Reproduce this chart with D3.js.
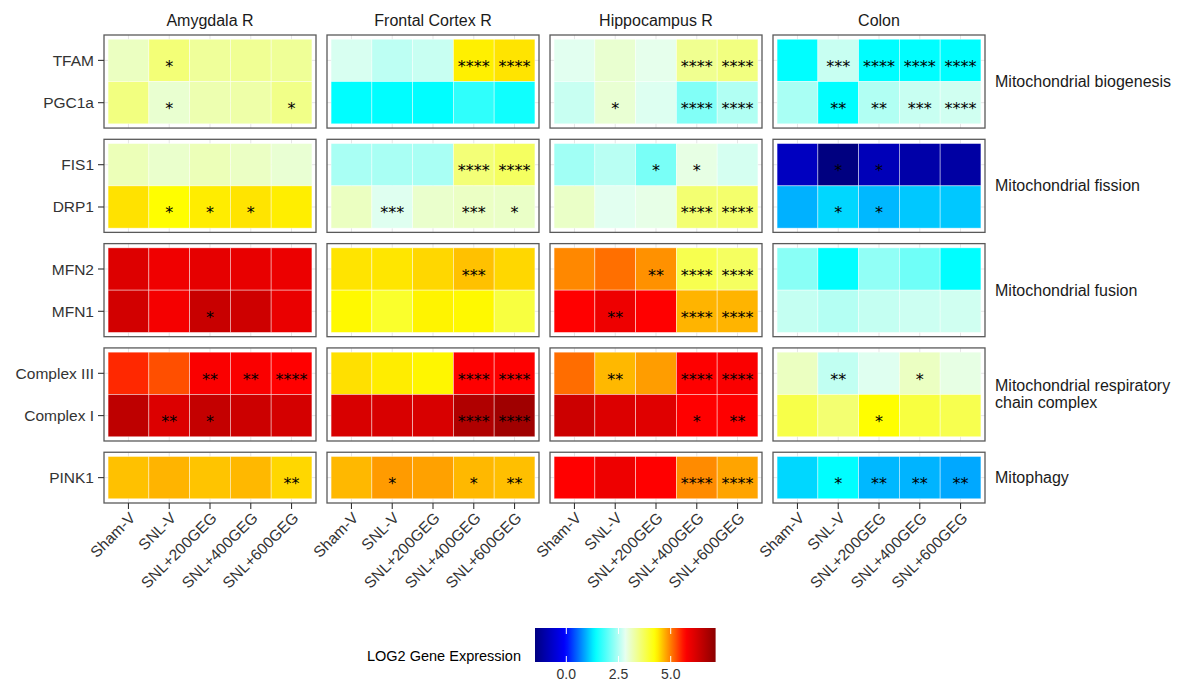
<!DOCTYPE html>
<html><head><meta charset="utf-8">
<script src="https://cdn.jsdelivr.net/npm/d3@7"></script>
<style>
body{margin:0;background:#fff}
svg{display:block}
text{font-family:"Liberation Sans",Arial,Helvetica,sans-serif}
</style>
</head><body>
<svg id="chart" width="1184" height="682"></svg>
<script>
// ---------------- DATA ----------------
const regions = ["Amygdala R", "Frontal Cortex R", "Hippocampus R", "Colon"];
const groups = ["Sham-V", "SNL-V", "SNL+200GEG", "SNL+400GEG", "SNL+600GEG"];
const pathways = ["Mitochondrial biogenesis", "Mitochondrial fission", "Mitochondrial fusion",
                  "Mitochondrial respiratory\nchain complex", "Mitophagy"];
const pathwayGenes = [["TFAM", "PGC1a"], ["FIS1", "DRP1"], ["MFN2", "MFN1"],
                      ["Complex III", "Complex I"], ["PINK1"]];
const genes = ["TFAM", "PGC1a", "FIS1", "DRP1", "MFN2", "MFN1", "Complex III", "Complex I", "PINK1"];

// LOG2 gene expression, rows follow `genes`, columns follow `groups`
const amygdalaValues = [
  [3.11, 3.55, 3.34, 3.38, 3.36],
  [3.50, 3.02, 3.21, 3.26, 3.45],
  [3.16, 3.04, 3.16, 3.09, 3.00],
  [4.43, 4.27, 4.37, 4.42, 4.36],
  [6.13, 5.89, 6.02, 5.99, 5.94],
  [6.27, 5.83, 6.39, 6.32, 5.97],
  [5.48, 5.26, 5.77, 5.77, 5.71],
  [6.52, 6.14, 6.44, 6.34, 6.24],
  [4.62, 4.69, 4.60, 4.67, 4.49]
];
const frontalValues = [
  [2.74, 2.57, 2.64, 4.35, 4.42],
  [1.38, 1.38, 1.38, 1.68, 1.48],
  [2.44, 2.44, 2.44, 3.55, 3.69],
  [3.11, 2.78, 3.04, 3.09, 3.07],
  [4.42, 4.41, 4.49, 4.62, 4.49],
  [4.30, 4.00, 4.33, 4.30, 3.88],
  [4.44, 4.37, 4.32, 5.72, 5.72],
  [6.19, 6.19, 6.19, 6.69, 6.89],
  [4.67, 4.83, 4.80, 4.67, 4.63]
];
const hippocampusValues = [
  [2.80, 3.02, 2.85, 3.40, 3.50],
  [2.64, 3.00, 2.77, 2.19, 2.49],
  [2.39, 2.54, 2.14, 2.90, 2.72],
  [3.07, 2.80, 2.88, 3.59, 3.62],
  [4.94, 5.08, 4.89, 3.79, 3.69],
  [5.71, 5.92, 5.71, 4.69, 4.69],
  [5.09, 4.67, 4.82, 5.72, 5.77],
  [6.34, 6.14, 6.09, 5.71, 5.72],
  [5.71, 5.92, 5.71, 4.92, 4.78]
];
const colonValues = [
  [1.38, 2.64, 1.38, 1.38, 1.38],
  [2.44, 1.38, 2.49, 2.64, 2.69],
  [-0.77, -1.50, -0.86, -1.05, -1.10],
  [0.94, 1.16, 0.98, 1.07, 1.07],
  [2.24, 1.38, 2.29, 2.08, 1.38],
  [2.61, 2.51, 2.61, 2.66, 2.69],
  [3.11, 2.59, 2.78, 3.10, 2.90],
  [3.83, 3.59, 4.27, 3.88, 3.79],
  [1.16, 1.38, 0.98, 0.96, 0.89]
];

// significance marks, same layout
const amygdalaStars = [
  ["", "*", "", "", ""],
  ["", "*", "", "", "*"],
  ["", "", "", "", ""],
  ["", "*", "*", "*", ""],
  ["", "", "", "", ""],
  ["", "", "*", "", ""],
  ["", "", "**", "**", "****"],
  ["", "**", "*", "", ""],
  ["", "", "", "", "**"]
];
const frontalStars = [
  ["", "", "", "****", "****"],
  ["", "", "", "", ""],
  ["", "", "", "****", "****"],
  ["", "***", "", "***", "*"],
  ["", "", "", "***", ""],
  ["", "", "", "", ""],
  ["", "", "", "****", "****"],
  ["", "", "", "****", "****"],
  ["", "*", "", "*", "**"]
];
const hippocampusStars = [
  ["", "", "", "****", "****"],
  ["", "*", "", "****", "****"],
  ["", "", "*", "*", ""],
  ["", "", "", "****", "****"],
  ["", "", "**", "****", "****"],
  ["", "**", "", "****", "****"],
  ["", "**", "", "****", "****"],
  ["", "", "", "*", "**"],
  ["", "", "", "****", "****"]
];
const colonStars = [
  ["", "***", "****", "****", "****"],
  ["", "**", "**", "***", "****"],
  ["", "*", "*", "", ""],
  ["", "*", "*", "", ""],
  ["", "", "", "", ""],
  ["", "", "", "", ""],
  ["", "**", "", "*", ""],
  ["", "", "*", "", ""],
  ["", "*", "**", "**", "**"]
];

const legendTicks = [0.0, 2.5, 5.0];
const colorDomain = [-1.5, 7.15];
const colorStops = ["#000080", "#0000FF", "#00FFFF", "#E6FFF0", "#FFFF00", "#FF0000", "#8B0000"];

// ---------------- LAYOUT ----------------
const regionValues = [amygdalaValues, frontalValues, hippocampusValues, colonValues];
const regionStars = [amygdalaStars, frontalStars, hippocampusStars, colonStars];

const svg = d3.select("#chart");
const panelLeft = 104, panelW = 212, gapX = 11;
const panelTop = 35, unitH = 42.3, gapY = 11.25;

const color = d3.scaleLinear()
  .domain(d3.range(colorStops.length).map(i => colorDomain[0] + i * (colorDomain[1] - colorDomain[0]) / (colorStops.length - 1)))
  .range(colorStops)
  .interpolate(d3.interpolateRgb)
  .clamp(true);

let yCursor = panelTop;
const rowPanels = pathwayGenes.map((g, i) => {
  const h = (g.length + 0.2) * unitH;
  const p = {top: yCursor, h: h, genes: g, label: pathways[i]};
  yCursor += h + gapY;
  return p;
});

const axisColor = "#333";
const fs = 15.5;

regions.forEach((region, ci) => {
  const x0 = panelLeft + ci * (panelW + gapX);
  const x = d3.scaleBand().domain(groups).range([x0, x0 + panelW]).paddingInner(0).paddingOuter(0.1);

  svg.append("text").attr("x", x0 + panelW / 2).attr("y", 26)
    .attr("text-anchor", "middle").attr("font-size", 16).attr("fill", "#1a1a1a").text(region);

  rowPanels.forEach((rp, ri) => {
    const y = d3.scaleBand().domain(rp.genes).range([rp.top, rp.top + rp.h]).paddingInner(0).paddingOuter(0.1);
    const g = svg.append("g");
    g.append("rect").attr("x", x0).attr("y", rp.top).attr("width", panelW).attr("height", rp.h).attr("fill", "#fff");
    groups.forEach(gr => g.append("line").attr("x1", x(gr) + x.bandwidth() / 2).attr("x2", x(gr) + x.bandwidth() / 2)
      .attr("y1", rp.top).attr("y2", rp.top + rp.h).attr("stroke", "#E5E5E5").attr("stroke-width", 1));
    rp.genes.forEach(ge => g.append("line").attr("y1", y(ge) + y.bandwidth() / 2).attr("y2", y(ge) + y.bandwidth() / 2)
      .attr("x1", x0).attr("x2", x0 + panelW).attr("stroke", "#E5E5E5").attr("stroke-width", 1));

    const cells = [];
    rp.genes.forEach(ge => {
      const gi = genes.indexOf(ge);
      groups.forEach((gr, k) => cells.push({gene: ge, group: gr, v: regionValues[ci][gi][k], s: regionStars[ci][gi][k]}));
    });
    g.selectAll("rect.tile").data(cells).join("rect").attr("class", "tile")
      .attr("x", d => x(d.group)).attr("y", d => y(d.gene))
      .attr("width", x.bandwidth()).attr("height", y.bandwidth())
      .attr("fill", d => color(d.v))
      .attr("stroke", "rgba(255,255,255,0.6)").attr("stroke-width", 0.7);
    g.selectAll("text.star").data(cells.filter(d => d.s)).join("text").attr("class", "star")
      .attr("x", d => x(d.group) + x.bandwidth() / 2)
      .attr("y", d => y(d.gene) + y.bandwidth() / 2 + 11.5)
      .attr("text-anchor", "middle")
      .style("font-family", "'DejaVu Sans', sans-serif").attr("font-size", 16).attr("fill", "#000")
      .text(d => d.s);
    g.append("rect").attr("x", x0).attr("y", rp.top).attr("width", panelW).attr("height", rp.h)
      .attr("fill", "none").attr("stroke", "#5a5a5a").attr("stroke-width", 1.3);

    if (ci === 0) {
      rp.genes.forEach(ge => {
        const cy = y(ge) + y.bandwidth() / 2;
        svg.append("line").attr("x1", x0 - 6).attr("x2", x0).attr("y1", cy).attr("y2", cy)
          .attr("stroke", axisColor).attr("stroke-width", 1.1);
        svg.append("text").attr("x", x0 - 10).attr("y", cy + 5.5).attr("text-anchor", "end")
          .attr("font-size", fs).attr("fill", axisColor).text(ge);
      });
    }
    if (ci === regions.length - 1) {
      const lines = rp.label.split("\n");
      const cy = rp.top + rp.h / 2;
      const lh = 17;
      lines.forEach((ln, li) => {
        svg.append("text").attr("x", x0 + panelW + 10)
          .attr("y", cy + 5.5 + (li - (lines.length - 1) / 2) * lh)
          .attr("font-size", 16).attr("fill", "#1a1a1a").text(ln);
      });
    }
    if (ri === rowPanels.length - 1) {
      const yb = rp.top + rp.h;
      groups.forEach(gr => {
        const cx = x(gr) + x.bandwidth() / 2;
        svg.append("line").attr("x1", cx).attr("x2", cx).attr("y1", yb).attr("y2", yb + 6)
          .attr("stroke", axisColor).attr("stroke-width", 1.1);
        svg.append("text").attr("transform", `translate(${cx},${yb + 8}) rotate(-45)`)
          .attr("dy", "0.72em").attr("text-anchor", "end")
          .attr("font-size", fs).attr("fill", axisColor).text(gr);
      });
    }
  });
});

// ---------------- LEGEND ----------------
const lx0 = 535, lx1 = 715.6, ly0 = 628, lh = 34;
const lscale = d3.scaleLinear().domain(colorDomain).range([lx0, lx1]);
const defs = svg.append("defs");
const grad = defs.append("linearGradient").attr("id", "lg").attr("x1", "0%").attr("x2", "100%");
d3.range(0, 1.0001, 0.02).forEach(t => {
  grad.append("stop").attr("offset", (t * 100) + "%")
    .attr("stop-color", color(colorDomain[0] + t * (colorDomain[1] - colorDomain[0])));
});
svg.append("rect").attr("x", lx0).attr("y", ly0).attr("width", lx1 - lx0).attr("height", lh).attr("fill", "url(#lg)");
legendTicks.forEach(t => {
  const tx = lscale(t);
  svg.append("line").attr("x1", tx).attr("x2", tx).attr("y1", ly0).attr("y2", ly0 + 6).attr("stroke", "#fff").attr("stroke-width", 1);
  svg.append("line").attr("x1", tx).attr("x2", tx).attr("y1", ly0 + lh - 6).attr("y2", ly0 + lh).attr("stroke", "#fff").attr("stroke-width", 1);
  svg.append("text").attr("x", tx).attr("y", 679).attr("text-anchor", "middle")
    .attr("font-size", 14).attr("fill", axisColor).text(d3.format(".1f")(t));
});
svg.append("text").attr("x", 367).attr("y", 661).attr("font-size", 14.5).attr("fill", "#000").text("LOG2 Gene Expression");
</script>
</body></html>
